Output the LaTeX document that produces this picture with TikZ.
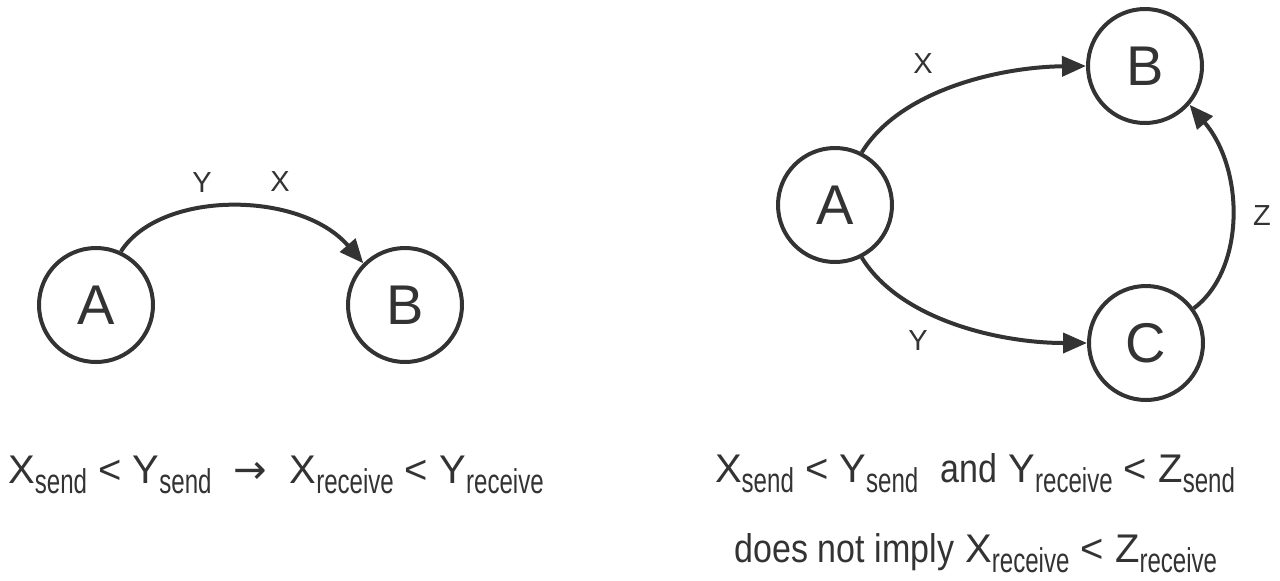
\documentclass[tikz,border=0pt]{standalone}
\usepackage{fontspec}
\setmainfont{Liberation Sans}
\newfontfamily\subfont[FakeStretch=0.7]{Liberation Sans}
\newfontfamily\wordfont[FakeStretch=0.85]{Liberation Sans}
\newfontfamily\arrowfont{DejaVu Sans}
\usetikzlibrary{arrows.meta}
\definecolor{ink}{HTML}{333333}
\newcommand{\sbs}[1]{\raisebox{-5pt}{\subfont\fontsize{17.2}{17}\selectfont #1}}
\newcommand{\wrd}[1]{{\wordfont #1}}
\begin{document}
\begin{tikzpicture}[x=0.5pt,y=-0.5pt,
  state/.style={circle,draw=ink,line width=2pt,minimum size=57pt,inner sep=0pt,font=\fontsize{28}{30}\selectfont,text=ink},
  arr/.style={draw=ink,line width=2pt,-{Triangle[length=12pt,width=10pt]}},
  lbl/.style={text=ink,font=\fontsize{14.5}{16}\selectfont},
  eq/.style={text=ink,font=\fontsize{20}{22}\selectfont,anchor=base,inner sep=0pt}]
\useasboundingbox (0,0) rectangle (1280,580);
% left diagram
\node[state] (A1) at (96,305) {A};
\node[state] (B1) at (405,305) {B};
\draw[arr] (A1.65) .. controls (160,190) and (300,190) .. (B1.135);
\node[lbl] (ly) at (202,183) {Y};
\node[lbl] (lx) at (280,182) {X};
% right diagram
\node[state] (A2) at (835,205) {A};
\node[state] (B2) at (1145,66) {B};
\node[state] (C2) at (1146,343) {C};
\draw[arr] (A2.63) .. controls (900,90) and (1000,67) .. (B2.180);
\draw[arr] (A2.-63) .. controls (900,320) and (1000,343) .. (C2.180);
\draw[arr] (C2.36) .. controls (1245,270) and (1245,170) .. (B2.-41);
\node[lbl] (rx) at (923,64) {X};
\node[lbl] (ry) at (918,341) {Y};
\node[lbl] (rz) at (1262,216) {Z};
% equations
\node[eq] (e1) at (276,483) {X\sbs{send} < Y\sbs{send} \ {\arrowfont →}\ \ X\sbs{receive} < Y\sbs{receive}};
\node[eq] (e2) at (975,482) {X\sbs{send} < Y\sbs{send} \ \wrd{and} Y\sbs{receive} < Z\sbs{send}};
\node[eq] (e3) at (976,562) {\wrd{does not imply} X\sbs{receive} < Z\sbs{receive}};
\end{tikzpicture}
\end{document}
